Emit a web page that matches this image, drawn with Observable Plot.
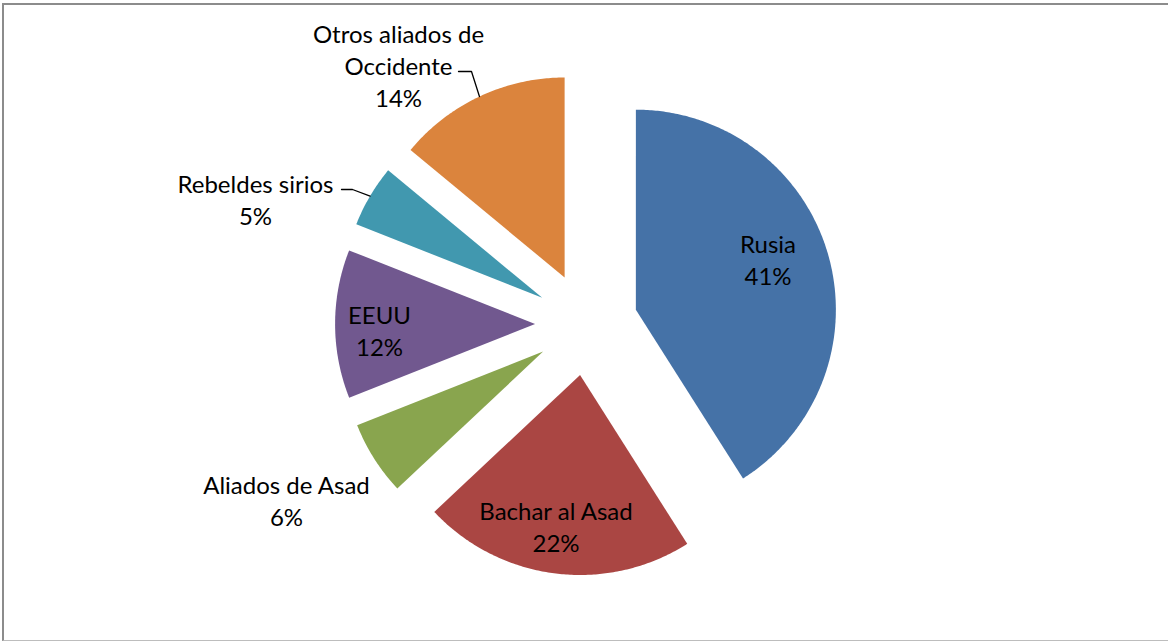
<!DOCTYPE html>
<html><head><meta charset="utf-8">
<script src="https://cdn.jsdelivr.net/npm/d3@7"></script>
<script src="https://cdn.jsdelivr.net/npm/@observablehq/plot@0.6"></script>
<style>
html,body{margin:0;padding:0;background:#fff;}
#wrap{position:relative;width:1168px;height:642px;overflow:hidden;}
#frame{position:absolute;left:2px;top:3px;width:1300px;height:635px;border-left:2px solid #8c8c8c;border-top:2px solid #8c8c8c;border-bottom:1px solid #bdbdbd;}
#chart{position:absolute;left:0;top:0;}
</style></head><body>
<div id="wrap"><div id="frame"></div><div id="chart"></div></div>
<script>
// ---- data ----
const categories = ["Rusia", "Bachar al Asad", "Aliados de Asad", "EEUU", "Rebeldes sirios", "Otros aliados de Occidente"];
const values = [41, 22, 6, 12, 5, 14];
const colors = ["#4572A7", "#AA4643", "#89A54E", "#71588F", "#4198AF", "#DB843D"];

// ---- layout (unit = pie radius, origin = pie centre, y up) ----
const explode = 0.257;
const labelBreaks = {"Otros aliados de Occidente": "Otros aliados de\nOccidente"};
const labelOffsets = [[0.9075, 0.328], [-0.1525, -1.007], [-1.5, -0.879], [-1.035, -0.029], [-1.655, 0.628], [-0.94, 1.297]];
const leaderEnds = {"Rebeldes sirios": [[-1.225, 0.6725], [-1.17, 0.6725]], "Otros aliados de Occidente": [[-0.64, 1.2625], [-0.575, 1.2625]]};

const arcs = d3.pie().sort(null).startAngle(0).endAngle(2 * Math.PI)(values);
const slices = [];
const labels = [];
const leaders = [];
arcs.forEach((a, i) => {
  const name = categories[i];
  const mid = (a.startAngle + a.endAngle) / 2;
  const cx = explode * Math.sin(mid), cy = explode * Math.cos(mid);
  slices.push({name, u: cx, v: cy});
  const n = Math.max(8, Math.ceil((a.endAngle - a.startAngle) / 0.01));
  for (let k = 0; k <= n; k++) {
    const t = a.startAngle + (a.endAngle - a.startAngle) * k / n;
    slices.push({name, u: cx + Math.sin(t), v: cy + Math.cos(t)});
  }
  slices.push({name, u: cx, v: cy});
  const txt = (labelBreaks[name] || name) + "\n" + values[i] + "%";
  labels.push({name, u: labelOffsets[i][0], v: labelOffsets[i][1], t: txt});
  if (leaderEnds[name]) {
    const pts = leaderEnds[name];
    leaders.push({name, u: pts[0][0], v: pts[0][1]});
    leaders.push({name, u: pts[1][0], v: pts[1][1]});
    leaders.push({name, u: cx + Math.sin(mid), v: cy + Math.cos(mid)});
  }
});

const W = 1168, H = 642, R = 200, CX = 586, CY = 323.5;
const chart = Plot.plot({
  width: W, height: H,
  marginTop: 0, marginRight: 0, marginBottom: 0, marginLeft: 0,
  x: {domain: [-CX / R, (W - CX) / R], range: [0, W], axis: null},
  y: {domain: [(CY - H) / R, CY / R], range: [H, 0], axis: null},
  color: {domain: categories, range: colors},
  style: {fontFamily: "Lato, 'Open Sans', sans-serif", background: "transparent", overflow: "visible"},
  marks: [
    Plot.line(slices, {x: "u", y: "v", z: "name", fill: "name", stroke: "none", curve: "linear"}),
    Plot.line(leaders, {x: "u", y: "v", z: "name", stroke: "#000", strokeWidth: 1.3, curve: "linear"}),
    Plot.text(labels, {x: "u", y: "v", text: "t", fontSize: 24, lineHeight: 1.35, fill: "#000", textAnchor: "middle"})
  ]
});
document.getElementById("chart").appendChild(chart);
</script>
</body></html>
